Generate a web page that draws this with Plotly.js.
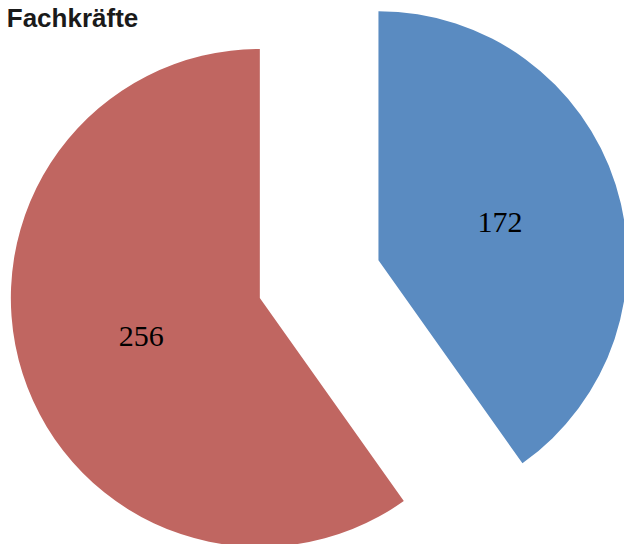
<!DOCTYPE html>
<html>
<head>
<meta charset="utf-8">
<script src="https://cdn.plot.ly/plotly-3.0.1.min.js"></script>
<style>
  html, body { margin: 0; padding: 0; width: 624px; height: 544px; overflow: hidden; background: #fff; }
  #chart { position: absolute; left: -101px; top: -71px; width: 734px; height: 734px; }
</style>
</head>
<body>
<div id="chart"></div>
<script>
const chartTitle = "Fachkräfte";
const categories = ["Gruppe 1", "Gruppe 2"];
const values = [172, 256];
const sliceColors = ["#5A8BC1", "#C06661"];
const pulls = [0.474, 0.026];

const data = [{
  type: "pie",
  labels: categories,
  values: values,
  sort: false,
  direction: "clockwise",
  rotation: 0,
  pull: pulls,
  marker: { colors: sliceColors, line: { width: 0 } },
  textinfo: "value",
  textposition: "inside",
  insidetextorientation: "horizontal",
  textfont: { family: "Liberation Serif, Times New Roman, serif", size: 30, color: "#000000" },
  hoverinfo: "label+value",
  showlegend: false
}];

const layout = {
  width: 734,
  height: 734,
  margin: { l: 0, r: 0, t: 0, b: 0, pad: 0 },
  paper_bgcolor: "#ffffff",
  plot_bgcolor: "#ffffff",
  showlegend: false,
  title: {
    text: "<b>" + chartTitle + "</b>",
    font: { family: "Liberation Sans, Arial, sans-serif", size: 26, color: "#1a1a1a" },
    xref: "container",
    yref: "container",
    x: 0.1468,
    xanchor: "left",
    y: 0.879,
    yanchor: "middle",
    pad: { t: 0, b: 0, l: 0, r: 0 }
  }
};

Plotly.newPlot("chart", data, layout, { displayModeBar: false, staticPlot: true });
</script>
</body>
</html>
